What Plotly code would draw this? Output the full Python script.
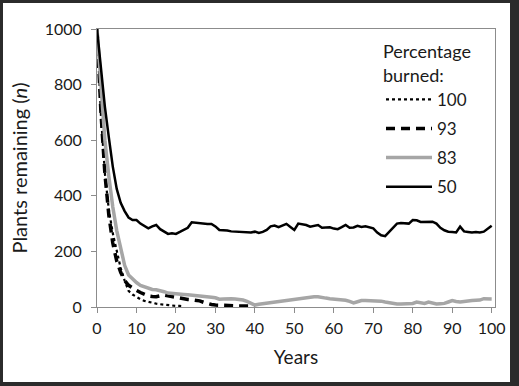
import plotly.graph_objects as go

years = list(range(0, 101))

burn50 = [1000, 860, 720, 610, 505, 425, 375, 345, 322, 313, 313, 300, 290, 283, 290, 295, 280, 270, 263, 265,
          263, 270, 278, 285, 305, 303, 301, 299, 299, 299, 290, 277, 277, 275, 272, 271, 271, 269, 267, 268,
          271, 266, 270, 277, 290, 293, 287, 292, 299, 288, 277, 300, 298, 295, 289, 293, 295, 285, 286, 287,
          282, 280, 287, 295, 285, 286, 292, 288, 290, 286, 283, 268, 258, 255, 270, 285, 300, 302, 300, 300,
          313, 312, 306, 307, 307, 307, 300, 285, 276, 271, 270, 268, 289, 272, 270, 268, 270, 268, 271, 282,
          292]

burn83 = [1000, 780, 600, 470, 360, 275, 205, 150, 115, 100, 88, 78, 72, 67, 63, 62, 60, 55, 50, 48,
          47, 46, 45, 44, 43, 42, 41, 39, 37, 35, 33, 28, 29, 31, 30, 29, 28, 25, 20, 12,
          7, 10, 12, 13, 15, 17, 20, 23, 26, 28, 30, 31, 33, 35, 36, 37, 37, 36, 32, 30,
          29, 27, 25, 24, 20, 15, 19, 23, 23, 23, 23, 23, 21, 18, 15, 13, 11, 11, 11, 11,
          13, 18, 15, 13, 18, 14, 11, 12, 13, 18, 23, 20, 18, 20, 23, 23, 24, 25, 30, 28,
          29]

burn93 = [1000, 700, 480, 330, 230, 165, 125, 95, 78, 68, 60, 52, 45, 40, 38, 37, 40, 43, 40, 37,
          35, 32, 29, 27, 26, 25, 22, 17, 12, 9, 7, 6, 5, 4, 4, 4, 4, 4, 4, 4, 3]

burn100 = [1000, 690, 480, 350, 265, 200, 140, 95, 58, 45, 35, 28, 22, 18, 15, 12, 10, 8, 6, 5,
           4, 4, 3]

x_ticks = list(range(0, 101, 10))
y_ticks = list(range(0, 1001, 200))

FONT = "Lato"
AXIS_GREY = "#8c8c8c"

fig = go.Figure()
fig.add_trace(go.Scatter(x=years[:len(burn100)], y=burn100, mode="lines", name="100",
                         legendgroup="a", line=dict(color="black", width=2.2, dash="dot")))
fig.add_trace(go.Scatter(x=years[:len(burn93)], y=burn93, mode="lines", name="93",
                         legendgroup="b", line=dict(color="black", width=3.5, dash="9px,6px")))
fig.add_trace(go.Scatter(x=years, y=burn83, mode="lines", name="83",
                         legendgroup="c", line=dict(color="#a6a6a6", width=3.5)))
fig.add_trace(go.Scatter(x=years, y=burn50, mode="lines", name="50",
                         legendgroup="d", line=dict(color="black", width=2.5)))

L, R, T, B = 97, 24, 29, 79
W, H = 519, 386
pw, ph = W - L - R, H - T - B

fig.add_shape(type="rect", xref="paper", yref="paper", layer="below",
              x0=(3 - L) / pw, x1=(510 - L) / pw,
              y0=(T + ph - 382) / ph, y1=(T + ph - 3) / ph,
              fillcolor="white", line=dict(width=0))

fig.update_layout(
    width=W, height=H,
    margin=dict(l=L, r=R, t=T, b=B, autoexpand=False),
    paper_bgcolor="#2b2b2b",
    plot_bgcolor="white",
    font=dict(family=FONT, size=16, color="#1a1a1a"),
    showlegend=True,
    legend=dict(
        x=(381 - L) / pw, y=(T + ph - 35) / ph, xanchor="left", yanchor="top",
        title=dict(text="Percentage<br>burned:", font=dict(size=18)),
        font=dict(size=17),
        bgcolor="rgba(0,0,0,0)",
        tracegroupgap=4,
        itemwidth=46,
    ),
    xaxis=dict(
        range=[0, 100.84], tickvals=x_ticks, ticktext=[str(v) for v in x_ticks],
        showgrid=False, zeroline=False, showline=True, linecolor=AXIS_GREY, linewidth=1,
        mirror=True, ticks="outside", ticklen=5, tickcolor=AXIS_GREY, automargin=False,
        ticklabelstandoff=2,
        title=dict(text="Years", font=dict(size=19), standoff=14),
        tickfont=dict(size=16),
    ),
    yaxis=dict(
        range=[0, 1000], tickvals=y_ticks, ticktext=[str(v) for v in y_ticks],
        showgrid=False, zeroline=False, showline=True, linecolor=AXIS_GREY, linewidth=1,
        mirror=True, ticks="outside", ticklen=5, tickcolor=AXIS_GREY, automargin=False,
        ticklabelstandoff=6,
        title=dict(text="Plants remaining (<i>n</i>)", font=dict(size=20), standoff=11),
        tickfont=dict(size=16),
    ),
)

fig.write_html("out.html", config={"displayModeBar": False},
               post_script="document.body.style.margin='0px';")
